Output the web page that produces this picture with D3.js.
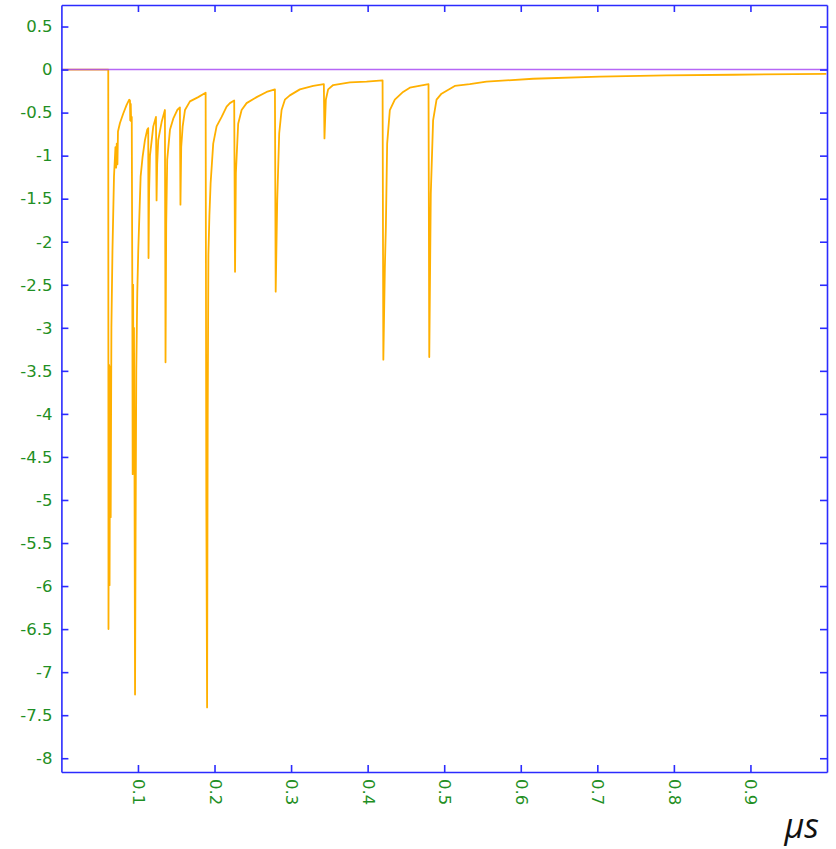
<!DOCTYPE html>
<html>
<head>
<meta charset="utf-8">
<script src="https://cdn.jsdelivr.net/npm/d3@7"></script>
<style>
  html, body { margin: 0; padding: 0; background: #ffffff; }
  svg { display: block; }
</style>
</head>
<body>
<svg id="chart" width="836" height="849"></svg>
<script>
// Transient response trace: time in microseconds, signal value
const timeUs = [
  0.0000, 0.0612, 0.0615, 0.0623, 0.0629, 0.0637, 0.0644, 0.0653, 0.0667, 0.0687,
  0.0706, 0.0715, 0.0723, 0.0732, 0.0739, 0.0765, 0.0808, 0.0852, 0.0886, 0.0896,
  0.0899, 0.0906, 0.0911, 0.0919, 0.0926, 0.0931, 0.0937, 0.0943, 0.0948, 0.0954,
  0.0962, 0.0969, 0.0978, 0.0991, 0.1004, 0.1035, 0.1061, 0.1091, 0.1121, 0.1134,
  0.1138, 0.1146, 0.1157, 0.1200, 0.1235, 0.1243, 0.1251, 0.1265, 0.1309, 0.1352,
  0.1360, 0.1369, 0.1382, 0.1418, 0.1461, 0.1513, 0.1548, 0.1555, 0.1565, 0.1584,
  0.1614, 0.1679, 0.1787, 0.1884, 0.1893, 0.1903, 0.1911, 0.1920, 0.1933, 0.1949,
  0.1983, 0.2027, 0.2093, 0.2158, 0.2201, 0.2257, 0.2268, 0.2279, 0.2309, 0.2354,
  0.2419, 0.2550, 0.2680, 0.2789, 0.2799, 0.2819, 0.2845, 0.2876, 0.2919, 0.2984,
  0.3115, 0.3289, 0.3428, 0.3436, 0.3454, 0.3484, 0.3550, 0.3768, 0.3986, 0.4195,
  0.4205, 0.4225, 0.4238, 0.4255, 0.4290, 0.4355, 0.4463, 0.4551, 0.4795, 0.4805,
  0.4825, 0.4855, 0.4900, 0.4965, 0.5138, 0.5334, 0.5552, 0.6161, 0.7031, 0.7902,
  0.8771, 0.9991
];
const signal = [
  0.00, 0.00, -6.50, -3.43, -5.99, -3.45, -5.20, -3.00, -2.10, -1.24,
  -0.90, -1.14, -0.86, -1.10, -0.72, -0.62, -0.51, -0.41, -0.35, -0.36,
  -0.59, -0.40, -0.60, -0.55, -2.50, -4.70, -2.50, -4.60, -3.00, -4.40,
  -7.26, -5.40, -3.50, -2.60, -2.10, -1.24, -1.01, -0.82, -0.70, -0.68,
  -2.19, -1.40, -1.00, -0.66, -0.55, -1.52, -1.10, -0.82, -0.61, -0.47,
  -3.40, -1.80, -1.05, -0.70, -0.57, -0.47, -0.44, -1.57, -0.90, -0.66,
  -0.47, -0.37, -0.32, -0.27, -5.00, -7.41, -4.00, -2.15, -1.70, -1.32,
  -0.86, -0.66, -0.55, -0.43, -0.39, -0.36, -2.35, -1.20, -0.63, -0.47,
  -0.39, -0.32, -0.26, -0.23, -2.58, -1.52, -0.74, -0.47, -0.35, -0.30,
  -0.23, -0.19, -0.17, -0.80, -0.35, -0.23, -0.18, -0.15, -0.14, -0.125,
  -3.37, -2.30, -1.83, -0.86, -0.47, -0.35, -0.26, -0.21, -0.17, -3.34,
  -1.44, -0.59, -0.35, -0.28, -0.19, -0.17, -0.14, -0.107, -0.083, -0.068,
  -0.060, -0.049
];

const xTickValues = [0.1, 0.2, 0.3, 0.4, 0.5, 0.6, 0.7, 0.8, 0.9];
const xTickLabels = ["0.1", "0.2", "0.3", "0.4", "0.5", "0.6", "0.7", "0.8", "0.9"];
const yTickValues = [0.5, 0, -0.5, -1, -1.5, -2, -2.5, -3, -3.5, -4, -4.5, -5, -5.5, -6, -6.5, -7, -7.5, -8];
const yTickLabels = ["0.5", "0", "-0.5", "-1", "-1.5", "-2", "-2.5", "-3", "-3.5", "-4", "-4.5", "-5", "-5.5", "-6", "-6.5", "-7", "-7.5", "-8"];
const xUnit = "\u03bcs";

const W = 836, H = 849;
const margin = { left: 61.4, top: 5, right: 9, bottom: 77 };
const axisColor = "#2b2bff";
const labelColor = "#1f8f24";
const traceColor = "#ffb000";
const zeroColor = "#a94cf5";

const svg = d3.select("#chart");

const x = d3.scaleLinear().domain([0, 1]).range([margin.left, W - margin.right]);
const y = d3.scaleLinear().domain([-8.16, 0.75]).range([H - margin.bottom, margin.top]);

const points = timeUs.map((t, i) => [t, signal[i]]);

// trace
svg.append("path")
  .datum(points)
  .attr("fill", "none")
  .attr("stroke", traceColor)
  .attr("stroke-width", 1.8)
  .attr("stroke-linejoin", "round")
  .attr("d", d3.line().x(d => x(d[0])).y(d => y(d[1])));

// zero reference line
svg.append("line")
  .attr("x1", x(0)).attr("x2", x(1))
  .attr("y1", y(0)).attr("y2", y(0))
  .attr("stroke", zeroColor)
  .attr("stroke-opacity", 0.85)
  .attr("stroke-width", 1.4);

function styleAxis(g) {
  g.selectAll("path.domain").attr("stroke", axisColor).attr("stroke-width", 1.6);
  g.selectAll(".tick line").attr("stroke", axisColor).attr("stroke-width", 1.6);
  g.selectAll(".tick text")
    .attr("fill", labelColor)
    .style("font-family", "'DejaVu Sans', sans-serif")
    .style("font-size", "16.5px");
}

const yLabelOf = v => yTickLabels[yTickValues.indexOf(v)];
const xLabelOf = v => xTickLabels[xTickValues.indexOf(v)];

// left axis with labels
svg.append("g")
  .attr("transform", `translate(${x(0)},0)`)
  .call(d3.axisLeft(y).tickValues(yTickValues).tickFormat(yLabelOf)
    .tickSize(-7).tickSizeOuter(0).tickPadding(9))
  .call(styleAxis);

// right axis, ticks only
svg.append("g")
  .attr("transform", `translate(${x(1)},0)`)
  .call(d3.axisRight(y).tickValues(yTickValues).tickFormat("")
    .tickSize(-7).tickSizeOuter(0))
  .call(styleAxis);

// bottom axis with rotated labels
svg.append("g")
  .attr("transform", `translate(0,${y.range()[0]})`)
  .call(d3.axisBottom(x).tickValues(xTickValues).tickFormat(xLabelOf)
    .tickSize(-7).tickSizeOuter(0))
  .call(styleAxis)
  .call(g => g.selectAll(".tick text")
    .attr("y", 0).attr("dy", null)
    .attr("transform", "translate(0,7) rotate(90)")
    .attr("text-anchor", "start")
    .attr("dominant-baseline", "central"));

// top axis, ticks only
svg.append("g")
  .attr("transform", `translate(0,${y.range()[1]})`)
  .call(d3.axisTop(x).tickValues(xTickValues).tickFormat("")
    .tickSize(-7).tickSizeOuter(0))
  .call(styleAxis);

// unit label
svg.append("text")
  .attr("x", 819)
  .attr("y", 838)
  .attr("text-anchor", "end")
  .attr("fill", "#111111")
  .style("font-family", "'Open Sans', sans-serif")
  .style("font-style", "italic")
  .style("font-size", "34px")
  .text(xUnit);
</script>
</body>
</html>
